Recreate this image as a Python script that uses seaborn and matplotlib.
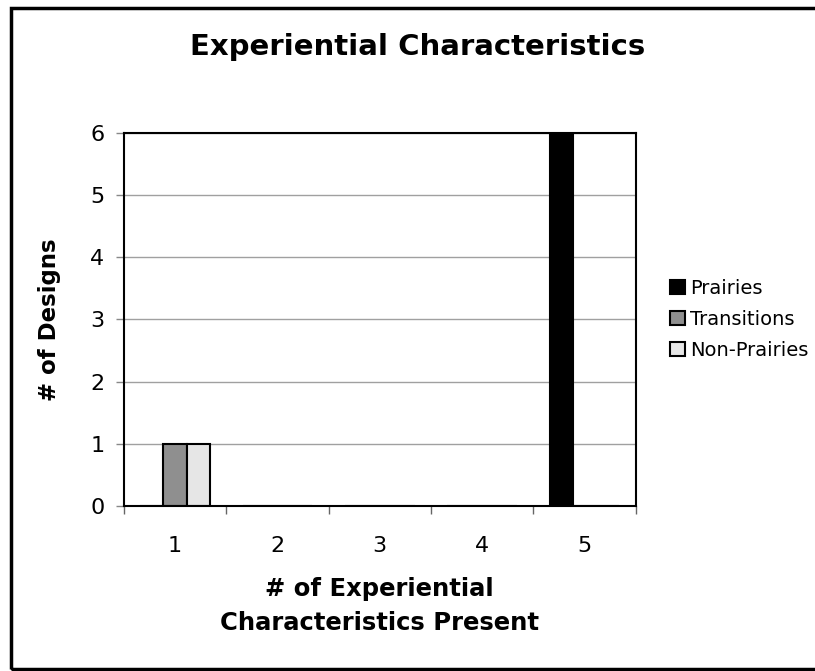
import pandas as pd
import numpy as np
import seaborn as sns
import matplotlib.pyplot as plt
from matplotlib.patches import Rectangle

# dati
categories = ['1', '2', '3', '4', '5']
prairies = [0, 0, 0, 0, 6]
transitions = [1, 0, 0, 0, 0]
non_prairies = [1, 0, 0, 0, 0]
series_names = ['Prairies', 'Transitions', 'Non-Prairies']
series_colors = ['#000000', '#8f8f8f', '#e6e6e6']

df = pd.DataFrame({
    'cat': categories * 3,
    'series': [s for s in series_names for _ in categories],
    'value': prairies + transitions + non_prairies,
})

sns.set_style('white')
plt.rcParams['font.family'] = ['DejaVu Sans']
plt.rcParams['text.color'] = 'black'
plt.rcParams['axes.labelcolor'] = 'black'
plt.rcParams['xtick.color'] = 'black'
plt.rcParams['ytick.color'] = 'black'
plt.rcParams['xtick.bottom'] = True
plt.rcParams['ytick.left'] = True

fig = plt.figure(figsize=(8.15, 6.71), dpi=100)
ax = fig.add_axes([0.152, 0.246, 0.628, 0.556])

sns.barplot(data=df, x='cat', y='value', hue='series', hue_order=series_names,
            order=categories, palette=series_colors, width=0.68, gap=0,
            edgecolor='black', linewidth=1.5, saturation=1, ax=ax)

ax.set_xlim(-0.5, 4.5)
ax.set_ylim(0, 6)
ax.set_yticks(range(7))
ax.yaxis.grid(True, color='#a0a0a0', linewidth=1)
ax.set_axisbelow(True)
for s in ax.spines.values():
    s.set_color('black')
    s.set_linewidth(1.5)

ax.tick_params(axis='x', which='major', length=0, pad=22, labelsize=16)
ax.set_xticks(np.arange(-0.5, 5, 1), minor=True)
ax.tick_params(axis='x', which='minor', length=6, width=1, color='#666666', direction='out')
ax.tick_params(axis='y', length=6, width=1, color='#888888', labelsize=16, pad=8)

ax.set_xlabel('# of Experiential\nCharacteristics Present', fontsize=17.5, fontweight='bold',
              labelpad=15, linespacing=1.5)
ax.set_ylabel('# of Designs', fontsize=16.5, fontweight='bold', labelpad=21)
fig.text(0.512, 0.930, 'Experiential Characteristics', fontsize=21, fontweight='bold',
         ha='center', va='center')

ax.legend(loc='center left', bbox_to_anchor=(1.032, 0.5), frameon=False, fontsize=14,
          handlelength=0.78, handleheight=0.78, handletextpad=0.26, labelspacing=0.62)

# cornice esterna
fig.patches.append(Rectangle((11 / 815, 2 / 671), 1.1, 661 / 671, transform=fig.transFigure,
                             fill=False, edgecolor='black', linewidth=2.5))

fig.savefig('out.png', dpi=100)
